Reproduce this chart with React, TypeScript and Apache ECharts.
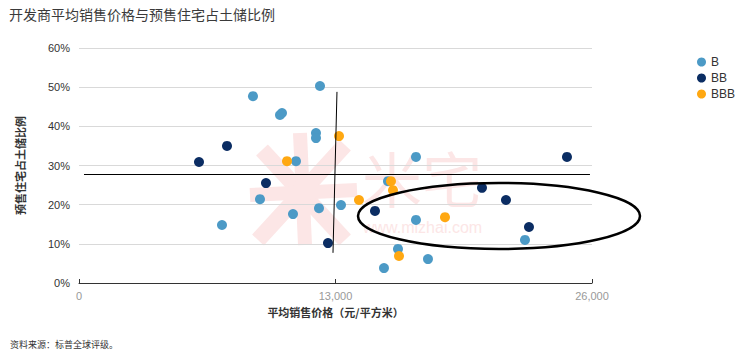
import React, { useEffect, useRef } from "react";
import * as echarts from "echarts";

const TITLE = "开发商平均销售价格与预售住宅占土储比例";
const SOURCE = "资料来源：标普全球评级。";
const X_NAME = "平均销售价格（元/平方米）";
const Y_NAME = "预售住宅占土储比例";

const xTicks = [0, 13000, 26000];
const yTicks = [0, 10, 20, 30, 40, 50, 60];

// [price, share %]
const seriesB: number[][] = [
  [8818, 47.7], [10187, 42.9], [10288, 43.4], [12214, 50.3], [12011, 38.3],
  [12011, 37.0], [10998, 31.1], [9173, 21.4], [7247, 14.8], [10846, 17.6],
  [12163, 19.1], [13278, 19.9], [17079, 32.2], [15660, 26.0], [17079, 16.1],
  [16167, 8.7], [15457, 3.8], [17687, 6.1], [22603, 11.0],
];
const seriesBB: number[][] = [
  [6082, 30.9], [7501, 35.0], [9477, 25.5], [12619, 10.2], [15001, 18.4],
  [20424, 24.3], [21640, 21.2], [22806, 14.3], [24732, 32.2],
];
const seriesBBB: number[][] = [
  [10541, 31.1], [13177, 37.5], [14190, 21.2], [15812, 26.0], [15914, 23.7],
  [18549, 16.8], [16218, 6.9],
];

// annotation lines (data coords)
const vLine = [[13075, 48.8], [12873, 7.7]];
const hLine = [[253, 27.8], [25897, 27.8]];

const COLORS = ["#4C9AC6", "#0B2D63", "#FFA812"];

export default function App() {
  const ref = useRef<HTMLDivElement>(null);
  useEffect(() => {
    document.body.style.margin = "0";
    const chart = echarts.init(ref.current!, undefined, { renderer: "svg" });
    const wm = "#FCE6E6";
    const base = "'Liberation Sans', Arial, 'Noto Sans CJK SC', sans-serif";
    chart.setOption({
      animation: false,
      textStyle: { fontFamily: base },
      title: {
        text: TITLE,
        left: 4,
        top: 2,
        textStyle: { fontSize: 14, fontWeight: "normal", color: "#3a3a3a", fontFamily: "'Noto Sans CJK SC', sans-serif" },
      },
      legend: {
        orient: "vertical",
        left: 692,
        top: 51,
        itemWidth: 9,
        itemHeight: 9,
        itemGap: 4,
        icon: "circle",
        textStyle: { fontSize: 12, color: "#333" },
        data: ["B", "BB", "BBB"],
      },
      grid: { left: 79, right: 148, top: 48, bottom: 74, containLabel: false },
      xAxis: {
        type: "value",
        min: xTicks[0],
        max: xTicks[xTicks.length - 1],
        interval: 13000,
        name: X_NAME,
        nameLocation: "middle",
        nameGap: 23,
        nameTextStyle: { fontSize: 11, color: "#333", fontWeight: "bold", fontFamily: "'Noto Sans CJK SC', sans-serif" },
        axisLine: { show: true, lineStyle: { color: "#333", width: 1 } },
        axisTick: { show: true, inside: true, length: 4, lineStyle: { color: "#333" } },
        axisLabel: {
          color: "#999",
          fontSize: 11,
          margin: 7,
          formatter: (v: number) => v.toLocaleString("en-US"),
        },
        splitLine: { show: false },
      },
      yAxis: {
        type: "value",
        min: yTicks[0],
        max: yTicks[yTicks.length - 1],
        interval: 10,
        name: Y_NAME,
        nameLocation: "middle",
        nameGap: 54,
        nameRotate: 90,
        nameTextStyle: { fontSize: 11, color: "#333", fontWeight: "bold", fontFamily: "'Noto Sans CJK SC', sans-serif" },
        axisLine: { show: false },
        axisTick: { show: false },
        axisLabel: { color: "#333", fontSize: 11, margin: 9, formatter: "{value}%" },
        splitLine: { show: true, lineStyle: { color: "#d9d9d9", width: 1 } },
      },
      graphic: [
        {
          type: "text",
          left: 10,
          top: 340,
          style: { text: SOURCE, fontSize: 9, fill: "#333", fontFamily: "'Noto Sans CJK SC', serif" },
        },
        // watermark
        { type: "text", z: -1, x: 362, y: 146, style: { text: "米宅", fontSize: 60, fill: wm, fontFamily: "'Noto Sans CJK SC', sans-serif" } },
        { type: "text", z: -1, x: 363, y: 219, style: { text: "www.mizhai.com", fontSize: 16, fill: wm, fontFamily: "'Liberation Sans', Arial, sans-serif" } },
        { type: "line", z: -1, shape: { x1: 262, y1: 150, x2: 345, y2: 240 }, style: { stroke: wm, lineWidth: 16 } },
        { type: "line", z: -1, shape: { x1: 345, y1: 145, x2: 258, y2: 240 }, style: { stroke: wm, lineWidth: 16 } },
        { type: "line", z: -1, shape: { x1: 300, y1: 133, x2: 305, y2: 245 }, style: { stroke: wm, lineWidth: 14 } },
        { type: "line", z: -1, shape: { x1: 250, y1: 195, x2: 357, y2: 190 }, style: { stroke: wm, lineWidth: 14 } },
        // ellipse annotation
        {
          type: "ellipse",
          z: 100,
          shape: { cx: 499, cy: 216, rx: 141, ry: 33 },
          style: { fill: "none", stroke: "#000", lineWidth: 2.5 },
        },
      ],
      series: [
        {
          name: "B",
          type: "scatter",
          data: seriesB,
          symbolSize: 10,
          itemStyle: { color: COLORS[0], opacity: 1 },
          markLine: {
            silent: true,
            symbol: "none",
            label: { show: false },
            lineStyle: { color: "#000", width: 1, type: "solid" },
            data: [
              [{ coord: vLine[0] }, { coord: vLine[1] }],
              [{ coord: hLine[0] }, { coord: hLine[1] }],
            ],
          },
        },
        { name: "BB", type: "scatter", data: seriesBB, symbolSize: 10, itemStyle: { color: COLORS[1], opacity: 1 } },
        { name: "BBB", type: "scatter", data: seriesBBB, symbolSize: 10, itemStyle: { color: COLORS[2], opacity: 1 } },
      ],
    });
    return () => chart.dispose();
  }, []);
  return <div ref={ref} style={{ width: 740, height: 357 }} />;
}
